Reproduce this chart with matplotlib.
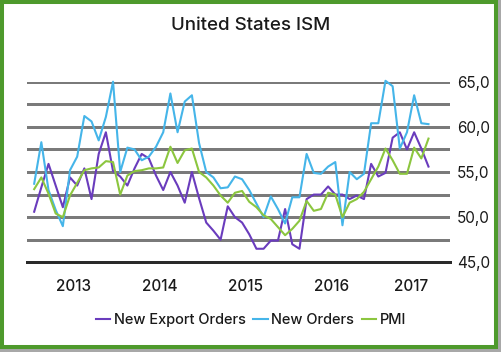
import matplotlib
matplotlib.use("Agg")
import matplotlib.pyplot as plt
from matplotlib.patches import Rectangle
import numpy as np

plt.rcParams['font.family'] = ['Inter', 'DejaVu Sans']

title = "United States ISM"
series_names = ["New Export Orders", "New Orders", "PMI"]

# Monthly values, Jan 2013 .. Aug 2017
new_export_orders = [50.6, 53.3, 55.9, 53.5, 51.1, 54.4, 53.5, 55.4, 52.0, 57.0, 59.4, 55.1,
                     54.5, 53.5, 55.4, 57.0, 56.5, 54.6, 53.0, 55.0, 53.5, 51.6, 55.0, 52.1,
                     49.4, 48.5, 47.5, 51.2, 50.0, 49.4, 48.1, 46.5, 46.5, 47.4, 47.4, 50.9,
                     47.0, 46.5, 52.0, 52.5, 52.5, 53.4, 52.5, 52.5, 52.0, 52.4, 52.0, 55.9,
                     54.5, 54.9, 58.8, 59.4, 57.5, 59.4, 57.6, 55.6]
new_orders = [53.7, 58.3, 53.0, 50.8, 49.0, 55.2, 56.7, 61.2, 60.6, 58.5, 61.1, 65.0,
              55.0, 57.7, 57.5, 56.3, 56.7, 57.8, 59.4, 63.7, 59.4, 62.8, 63.5, 58.2,
              55.0, 54.4, 53.2, 53.3, 54.5, 54.2, 53.0, 51.5, 50.0, 52.3, 50.9, 49.3,
              52.2, 52.2, 57.0, 54.9, 54.8, 55.6, 56.1, 49.1, 55.0, 54.2, 54.8, 60.4,
              60.4, 65.1, 64.5, 57.6, 59.4, 63.5, 60.4, 60.3]
pmi = [53.1, 54.4, 52.6, 50.4, 50.0, 52.4, 53.8, 55.2, 55.4, 55.5, 56.2, 56.1,
       52.5, 54.6, 55.1, 55.2, 55.4, 55.4, 55.5, 57.8, 56.0, 57.4, 57.6, 55.0,
       54.4, 53.5, 52.4, 51.6, 52.7, 52.9, 51.7, 51.1, 50.2, 49.8, 48.9, 48.0,
       48.7, 49.6, 51.8, 50.7, 50.9, 52.7, 52.5, 50.0, 51.6, 52.0, 52.8, 54.2,
       55.6, 57.6, 56.3, 54.8, 54.8, 57.7, 56.5, 58.7]

year_labels = ["2013", "2014", "2015", "2016", "2017"]
y_ticks = [45, 50, 55, 60, 65]
y_ticklabels = ["45,0", "50,0", "55,0", "60,0", "65,0"]
y_grid = [47.5, 50, 52.5, 55, 57.5, 60, 62.5, 65]

colors = ["#6a3cbd", "#45b5e9", "#8cc63f"]

W, H = 501, 352
fig = plt.figure(figsize=(W / 100, H / 100), dpi=100)
fig.patch.set_facecolor("white")

# frame: grey shadow + green border
fig.patches.append(Rectangle((0, 0), 1, 1, transform=fig.transFigure,
                             facecolor="#a8a8a8", edgecolor="none", zorder=-20))
fig.patches.append(Rectangle((2 / W, 5 / H), 494 / W, 345 / H, transform=fig.transFigure,
                             facecolor="white", edgecolor="#4e9a2c", linewidth=2.9, zorder=-19))

ax = fig.add_axes([27 / W, 1 - 262.3 / H, 423 / W, (262.3 - 81.7) / H])
ax.set_facecolor("none")
ax.set_xlim(-1.0, 58.0)
ax.set_ylim(45, 65)

for g in y_grid:
    ax.axhline(g, color="#7a7a7a", lw=0.8, zorder=2, antialiased=False)
ax.axhline(45, color="#2a2a2a", lw=0.8, zorder=2, antialiased=False, clip_on=False)

x = np.arange(len(pmi))
handles = []
for vals, c, name in zip([new_export_orders, new_orders, pmi], colors, series_names):
    h, = ax.plot(x, vals, color=c, lw=1.5, label=name, clip_on=False, zorder=3)
    handles.append(h)

for s in ax.spines.values():
    s.set_visible(False)

ax.yaxis.tick_right()
ax.set_yticks(y_ticks)
ax.set_yticklabels(y_ticklabels)
ax.tick_params(axis="y", which="both", length=0, pad=5, labelsize=11, labelcolor="#1a1a1a")

year_pos = [5.5, 17.5, 29.5, 41.5, 52.5]
ax.set_xticks(year_pos)
ax.set_xticklabels(year_labels, fontweight="medium")
ax.tick_params(axis="x", length=0, pad=12, labelsize=11, labelcolor="#1a1a1a")

fig.text(0.5, 1 - 25 / H, title, ha="center", va="center", fontsize=13.5,
         fontweight="medium", color="#1a1a1a")

leg = fig.legend(handles=handles, labels=series_names, loc="center",
                 bbox_to_anchor=(251 / W, 1 - 320 / H), ncol=3, frameon=False,
                 handlelength=1.0, handletextpad=0.25, columnspacing=0.5, fontsize=10.5,
                 labelcolor="#1a1a1a")
for t in leg.get_texts():
    t.set_fontweight("medium")

fig.savefig("out.png", dpi=100)
